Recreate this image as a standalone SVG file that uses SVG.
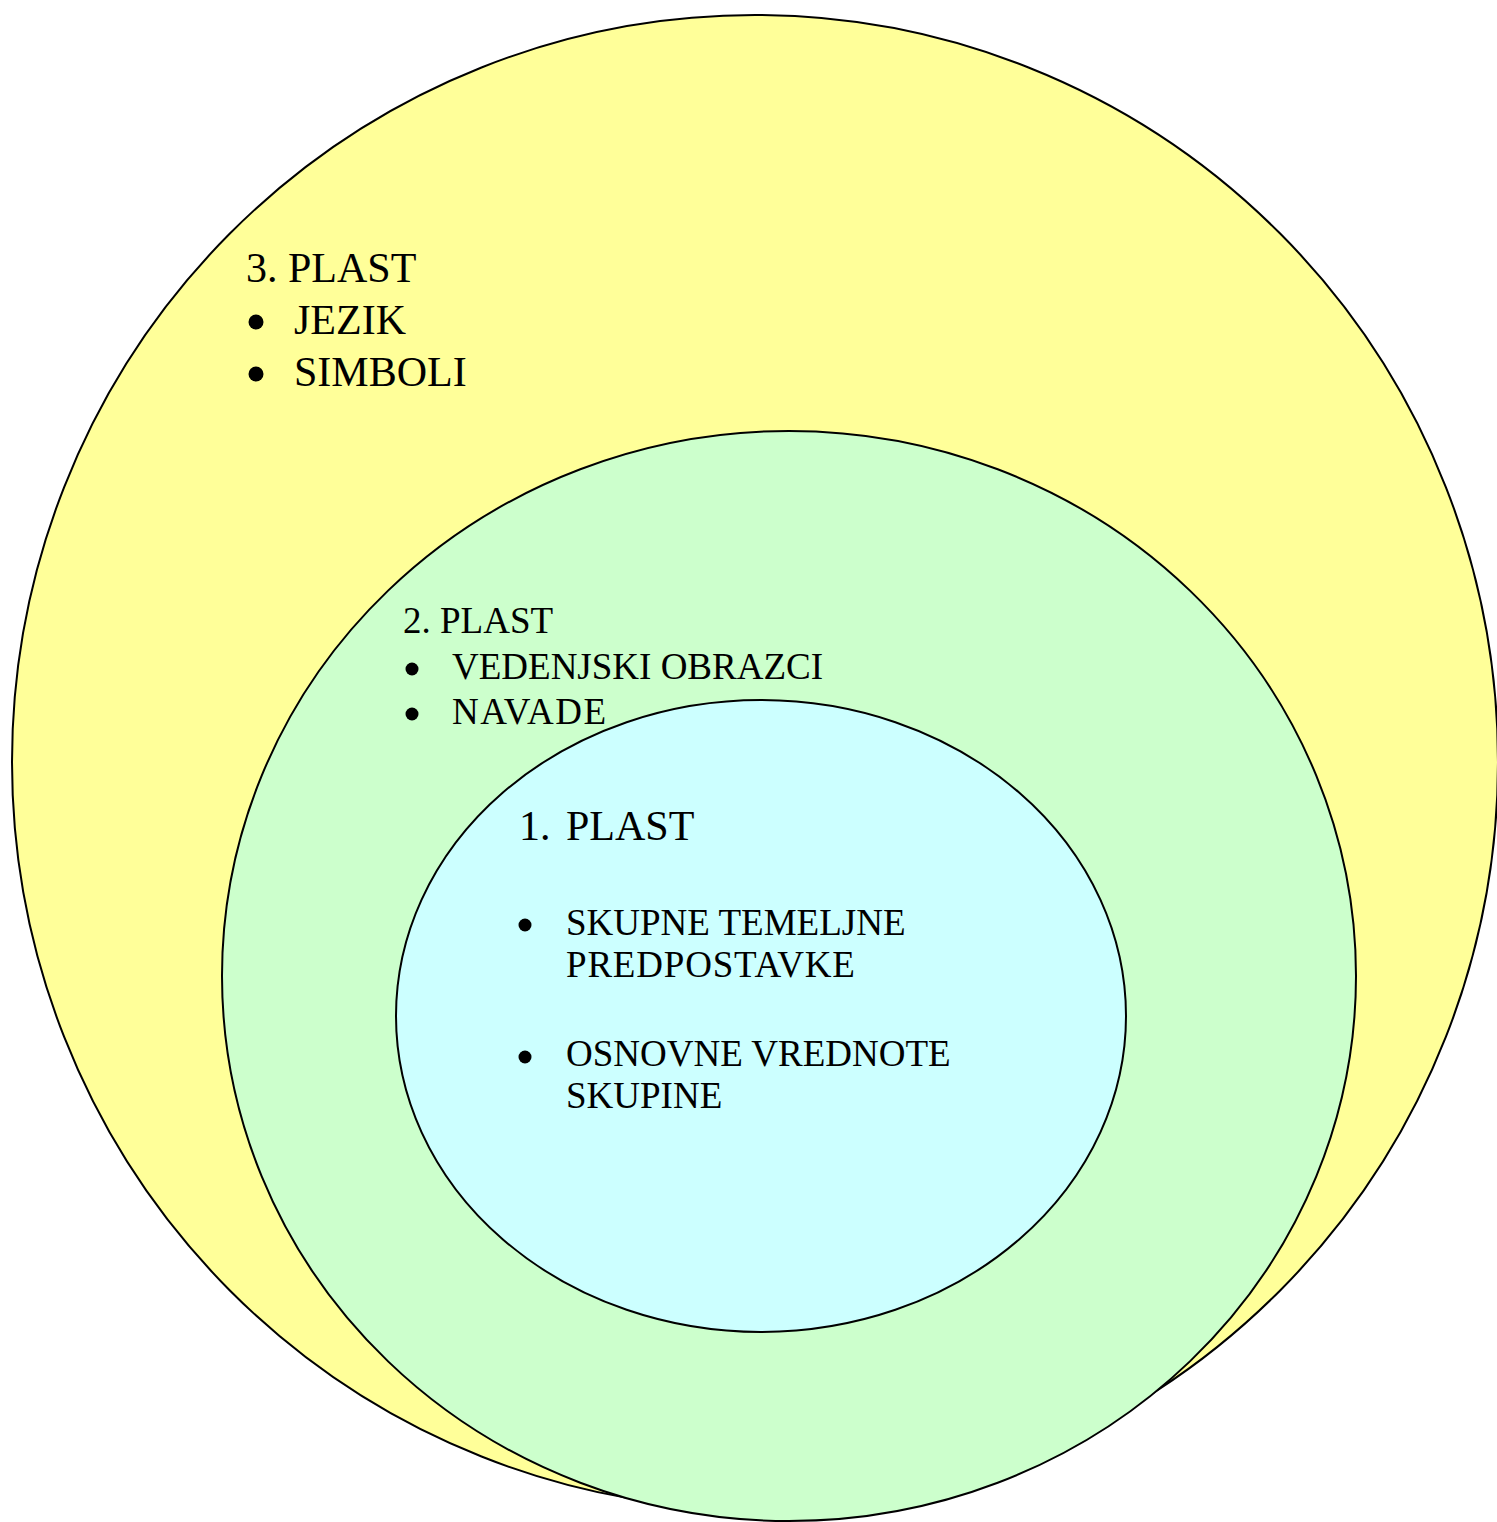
<svg xmlns="http://www.w3.org/2000/svg" width="1497" height="1522" viewBox="0 0 1497 1522">
<style>
.e{stroke:#000;stroke-width:2}
.t{font-family:"Liberation Serif","Times New Roman",serif;fill:#000}
.b{fill:#000}
</style>
<rect width="1497" height="1522" fill="#fff"/>
<g id="layer3">
<ellipse class="e" cx="755" cy="762" rx="743" ry="747" fill="#FFFF99"/>
<text class="t" x="246" y="282" font-size="42">3. PLAST</text>
<circle class="b" cx="256" cy="322" r="7.5"/>
<text class="t" x="294" y="334" font-size="42">JEZIK</text>
<circle class="b" cx="256" cy="374" r="7.5"/>
<text class="t" x="294" y="386" font-size="42">SIMBOLI</text>
</g>
<g id="layer2">
<ellipse class="e" cx="789" cy="976" rx="567" ry="545" fill="#CCFFCC"/>
<text class="t" x="403" y="633" font-size="37">2. PLAST</text>
<circle class="b" cx="412" cy="669" r="6.5"/>
<text class="t" x="452" y="679" font-size="37">VEDENJSKI OBRAZCI</text>
<circle class="b" cx="412" cy="714" r="6.5"/>
<text class="t" x="452" y="724" font-size="37" letter-spacing="1.5">NAVADE</text>
</g>
<g id="layer1">
<ellipse class="e" cx="761" cy="1016" rx="365" ry="316" fill="#CCFFFF"/>
<text class="t" x="519" y="840" font-size="42">1.</text>
<text class="t" x="566" y="840" font-size="42">PLAST</text>
<circle class="b" cx="525" cy="925" r="6.5"/>
<text class="t" x="566" y="935" font-size="37">SKUPNE TEMELJNE</text>
<text class="t" x="566" y="977" font-size="37" letter-spacing="0.8">PREDPOSTAVKE</text>
<circle class="b" cx="525" cy="1057" r="6.5"/>
<text class="t" x="566" y="1066" font-size="37">OSNOVNE VREDNOTE</text>
<text class="t" x="566" y="1108" font-size="37">SKUPINE</text>
</g>
<g id="connectors"/>
</svg>
